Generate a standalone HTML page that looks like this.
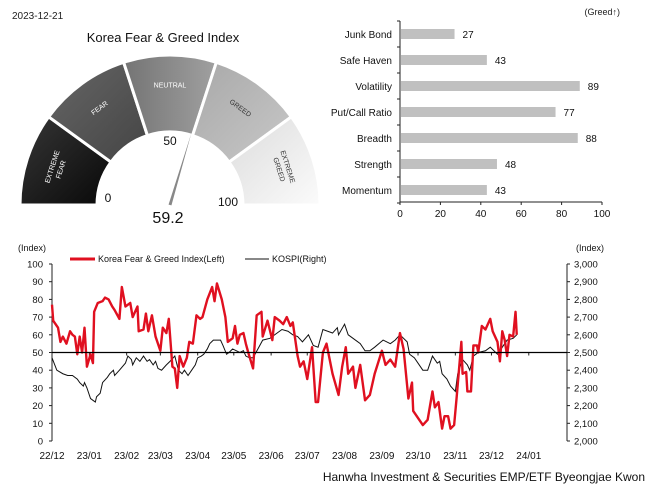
<!DOCTYPE html>
<html><head><meta charset="utf-8"><style>
html,body{margin:0;padding:0;background:#fff;}
svg{display:block;font-family:"Liberation Sans",sans-serif;}
</style></head><body>
<svg id="root" width="662" height="492" viewBox="0 0 662 492">
<defs>
<linearGradient id="g1" x1="0" y1="0" x2="1" y2="1"><stop offset="0" stop-color="#363636"/><stop offset="1" stop-color="#080808"/></linearGradient>
<linearGradient id="g2" x1="0" y1="0" x2="1" y2="1"><stop offset="0" stop-color="#666"/><stop offset="1" stop-color="#444"/></linearGradient>
<linearGradient id="g3" x1="0" y1="0" x2="1" y2="0"><stop offset="0" stop-color="#747474"/><stop offset="1" stop-color="#a0a0a0"/></linearGradient>
<linearGradient id="g4" x1="0" y1="0" x2="1" y2="1"><stop offset="0" stop-color="#a8a8a8"/><stop offset="1" stop-color="#c8c8c8"/></linearGradient>
<linearGradient id="g5" x1="0" y1="0" x2="1" y2="1"><stop offset="0" stop-color="#dcdcdc"/><stop offset="1" stop-color="#fbfbfb"/></linearGradient>
</defs>
<text x="12" y="19" font-size="10" fill="#222">2023-12-21</text>
<text x="163" y="42" font-size="13" text-anchor="middle" fill="#111">Korea Fear &amp; Greed Index</text>
<g id="gauge"></g>
<g id="bars"></g>
<g id="lines"></g>
<text x="645" y="481" font-size="12" text-anchor="end" fill="#111">Hanwha Investment &amp; Securities EMP/ETF Byeongjae Kwon</text>
</svg>
<script>
const gaugeValue = 59.2;
const zoneNames = ["EXTREME FEAR","FEAR","NEUTRAL","GREED","EXTREME GREED"];
const barCategories = ["Junk Bond","Safe Haven","Volatility","Put/Call Ratio","Breadth","Strength","Momentum"];
const barValues = [27,43,89,77,88,48,43];
const barTicks = [0,20,40,60,80,100];
const leftTicks = [0,10,20,30,40,50,60,70,80,90,100];
const rightTicks = [2000,2100,2200,2300,2400,2500,2600,2700,2800,2900,3000];
const monthLabels = ["22/12","23/01","23/02","23/03","23/04","23/05","23/06","23/07","23/08","23/09","23/10","23/11","23/12","24/01"];
const monthDays = [0,31,62,90,121,151,182,212,243,274,304,335,365,396];
const fgDays = [0,1,5,7,9,12,15,17,19,21,23,25,27,29,32,34,35,38,42,44,47,50,52,56,58,61,65,67,71,72,76,78,80,83,86,90,92,95,97,100,102,104,106,109,112,114,117,120,123,125,129,133,135,137,141,144,146,150,152,154,156,159,161,163,167,170,174,175,179,183,185,189,192,195,198,200,204,206,209,212,216,219,221,225,228,233,238,241,244,246,250,252,256,260,264,268,274,277,281,285,289,292,296,299,300,308,312,316,318,321,324,326,329,331,334,336,340,341,344,345,348,350,353,354,357,360,364,366,370,372,374,376,378,380,383,385,386];
const fgValues = [77,68,64,56,59,55,62,60,59,49,59,50,64,42,49,44,73,78,79,81,80,76,74,69,87,76,78,70,76,62,63,72,62,71,59,51,64,61,69,42,41,30,48,42,47,56,55,71,69,70,80,87,79,89,80,70,56,58,65,55,60,61,55,50,41,71,73,59,68,57,70,68,66,70,65,67,48,42,45,35,53,22,22,50,55,38,26,42,53,38,42,30,43,23,26,38,51,43,46,42,61,52,24,33,17,9,12,28,19,22,7,14,14,7,9,24,56,38,39,28,28,54,54,50,65,63,69,62,56,45,62,57,48,60,59,73,60];
const kDays = [0,4,9,13,17,21,23,26,27,29,32,34,36,37,40,42,46,48,51,52,56,61,63,66,67,70,73,76,79,81,84,86,88,91,95,98,102,105,108,110,113,116,119,121,124,126,129,131,134,137,140,142,145,147,150,153,156,159,161,164,167,171,175,181,187,191,196,200,204,208,213,217,221,225,233,237,238,243,246,250,256,260,264,268,275,281,285,289,295,297,301,308,312,316,320,322,324,328,331,335,337,341,345,347,350,354,360,364,370,374,378,383,386];
const kValues = [2470,2400,2380,2370,2370,2350,2330,2310,2330,2300,2240,2230,2220,2250,2270,2330,2360,2380,2400,2370,2400,2440,2480,2460,2430,2470,2450,2480,2450,2460,2430,2450,2410,2400,2430,2450,2480,2400,2380,2400,2370,2400,2430,2470,2480,2490,2520,2550,2570,2570,2570,2540,2490,2500,2520,2510,2500,2510,2480,2470,2470,2520,2570,2580,2610,2630,2620,2600,2590,2560,2600,2540,2530,2630,2610,2640,2600,2660,2600,2580,2550,2510,2510,2530,2570,2550,2570,2600,2560,2490,2470,2400,2400,2480,2440,2450,2380,2350,2310,2280,2380,2460,2430,2400,2480,2500,2510,2530,2490,2530,2570,2580,2600];

const NS="http://www.w3.org/2000/svg";
function mk(parent,tag,attrs,txt){const e=document.createElementNS(NS,tag);for(const k in attrs)e.setAttribute(k,attrs[k]);if(txt!==undefined)e.textContent=txt;parent.appendChild(e);return e;}

// Gauge
(function(){
const g=document.getElementById('gauge');
const cx=170,cy=205,R=150,r=73;
const fills=["url(#g1)","url(#g2)","url(#g3)","url(#g4)","url(#g5)"];
const textCol=["#fff","#fff","#fff","#333","#333"];
function pt(rad,a){return [cx+rad*Math.cos(a),cy-rad*Math.sin(a)];}
for(let i=0;i<5;i++){
 const a0=Math.PI-i*Math.PI/5, a1=Math.PI-(i+1)*Math.PI/5;
 const p0=pt(R,a0),p1=pt(R,a1),p2=pt(r,a1),p3=pt(r,a0);
 const p=mk(g,'path',{d:`M${p0} A${R},${R} 0 0 1 ${p1} L${p2} A${r},${r} 0 0 0 ${p3}Z`,fill:fills[i],stroke:'#fff','stroke-width':3});
 
 
 const am=(a0+a1)/2, tp=pt((R+r)/2+8,am);
 const rot=90-am*180/Math.PI;
 const words=zoneNames[i].split(' ');
 const t=mk(g,'text',{x:tp[0],y:tp[1],'font-size':7,fill:textCol[i],'text-anchor':'middle',transform:`rotate(${rot} ${tp[0]} ${tp[1]})`});
 
 
 words.forEach((w,k)=>mk(t,'tspan',{x:tp[0],dy:k===0?(words.length>1?-2:2):9},w));
}
const na=Math.PI*(1-gaugeValue/100);
const tip=pt(r+2,na), b1=pt(1.5,na+Math.PI/2), b2=pt(1.5,na-Math.PI/2);
const nd=mk(g,'path',{d:`M${b1} L${tip} L${b2}Z`,fill:'#888'});


const lbl=[["0",108,202],["50",170,145],["100",228,206]];
lbl.forEach(l=>{const t=mk(g,'text',{x:l[1],y:l[2],'font-size':12,'text-anchor':'middle',fill:'#111'},l[0]);
 
 });
const v=mk(g,'text',{x:168,y:223,'font-size':16,'text-anchor':'middle',fill:'#111'},gaugeValue.toFixed(1));


})();

// Bar chart
(function(){
const g=document.getElementById('bars');
const x0=400,x1=602,yTop=21,rowH=26;
const X=v=>x0+(x1-x0)*v/100;
const ax=mk(g,'path',{d:`M${x0} ${yTop}V202H${x1}`,stroke:'#222',fill:'none','stroke-width':1});


for(let k=0;k<=barCategories.length;k++){mk(g,'line',{x1:x0-3,x2:x0,y1:yTop+k*rowH,y2:yTop+k*rowH,stroke:'#222'});}
barCategories.forEach((c,i)=>{
 const yc=yTop+rowH*i+13;
 const t=mk(g,'text',{x:392,y:yc+4,'font-size':10,'text-anchor':'end',fill:'#111'},c);
 
 
 const b=mk(g,'rect',{x:x0+1,y:yc-5,width:X(barValues[i])-x0-1,height:10,fill:'#c0c0c0'});
 
 
 const vt=mk(g,'text',{x:X(barValues[i])+8,y:yc+4,'font-size':10,fill:'#111'},barValues[i]);
 
 
});
barTicks.forEach(v=>{
 mk(g,'line',{x1:X(v),x2:X(v),y1:202,y2:205,stroke:'#222'});
 const t=mk(g,'text',{x:X(v),y:217,'font-size':10,'text-anchor':'middle',fill:'#111'},v);
 
 
});
const gt=mk(g,'text',{x:620,y:15,'font-size':9,'text-anchor':'end',fill:'#222'},'(Greed↑)');


})();

// Line chart
(function(){
const g=document.getElementById('lines');
const xL=52,xR=567,yT=264,yB=441,pxDay=1.204;
const X=d=>xL+d*pxDay;
const YL=v=>yB-(yB-yT)*v/100;
const YR=k=>yB-(yB-yT)*(k-2000)/1000;
const a1=mk(g,'line',{x1:xL,x2:xL,y1:yT,y2:yB,stroke:'#222'});


const a2=mk(g,'line',{x1:xR,x2:xR,y1:yT,y2:yB,stroke:'#222'});


leftTicks.forEach(v=>{
 mk(g,'line',{x1:xL-3,x2:xL,y1:YL(v),y2:YL(v),stroke:'#222'});
 const t=mk(g,'text',{x:43,y:YL(v)+3.5,'font-size':9.5,'text-anchor':'end',fill:'#111'},v);
 
 
});
rightTicks.forEach(k=>{
 mk(g,'line',{x1:xR,x2:xR+3,y1:YR(k),y2:YR(k),stroke:'#222'});
 const t=mk(g,'text',{x:574,y:YR(k)+3.5,'font-size':9.5,fill:'#111'},k.toLocaleString('en-US'));
 
 
});
const u1=mk(g,'text',{x:18,y:251,'font-size':9,fill:'#111'},'(Index)');


const u2=mk(g,'text',{x:576,y:251,'font-size':9,fill:'#111'},'(Index)');


monthLabels.forEach((m,i)=>{
 mk(g,'line',{x1:X(monthDays[i]),x2:X(monthDays[i]),y1:YL(50),y2:YL(50)+3,stroke:'#222'});
 const t=mk(g,'text',{x:X(monthDays[i]),y:459,'font-size':10,'text-anchor':'middle',fill:'#111'},m);
 
 
});
const k=mk(g,'polyline',{points:kDays.map((d,i)=>X(d)+','+YR(kValues[i])).join(' '),fill:'none',stroke:'#111','stroke-width':1});


const f=mk(g,'polyline',{points:fgDays.map((d,i)=>X(d)+','+YL(fgValues[i])).join(' '),fill:'none',stroke:'#e01020','stroke-width':2.4,'stroke-linejoin':'round'});


const ml=mk(g,'line',{x1:xL,x2:xR,y1:YL(50),y2:YL(50),stroke:'#000','stroke-width':1.3});


const l1=mk(g,'line',{x1:70,x2:95,y1:259,y2:259,stroke:'#e01020','stroke-width':3});


const t1=mk(g,'text',{x:98,y:262,'font-size':9,fill:'#111'},'Korea Fear & Greed Index(Left)');


const l2=mk(g,'line',{x1:245,x2:269,y1:259,y2:259,stroke:'#111','stroke-width':1});


const t2=mk(g,'text',{x:272,y:262,'font-size':9,fill:'#111'},'KOSPI(Right)');


})();
</script>
</body></html>
